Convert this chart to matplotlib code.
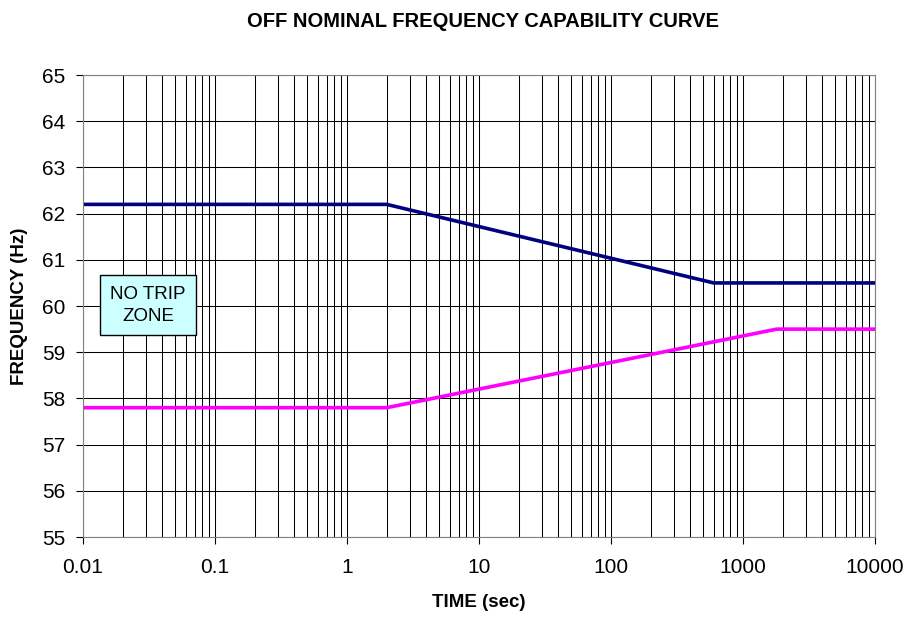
import matplotlib
matplotlib.use("Agg")
import matplotlib.pyplot as plt
from matplotlib.ticker import LogLocator, NullFormatter

plt.rcParams['font.family'] = ['Liberation Sans', 'DejaVu Sans']

# curve breakpoints
upper_t = [0.01, 2, 600, 10000]
upper_f = [62.2, 62.2, 60.5, 60.5]
lower_t = [0.01, 2, 1800, 10000]
lower_f = [57.8, 57.8, 59.5, 59.5]
x_ticks = [0.01, 0.1, 1, 10, 100, 1000, 10000]
x_labels = ['0.01', '0.1', '1', '10', '100', '1000', '10000']
y_ticks = list(range(55, 66))

fig = plt.figure(figsize=(9.09, 6.18), dpi=100)
ax = fig.add_axes([0.0913, 0.131, 0.8713, 0.7476])

ax.set_xscale('log')
ax.set_xlim(0.01, 10000)
ax.set_ylim(55, 65)
ax.set_xticks(x_ticks)
ax.set_xticklabels(x_labels)
ax.xaxis.set_minor_locator(LogLocator(base=10, subs=range(2, 10)))
ax.xaxis.set_minor_formatter(NullFormatter())
ax.set_yticks(y_ticks)

ax.grid(True, which='major', axis='both', color='black', lw=0.75)
ax.grid(True, which='minor', axis='x', color='black', lw=0.75)
ax.set_axisbelow(True)
ax.tick_params(axis='both', which='major', labelsize=15, direction='out', length=5, color='black')
ax.tick_params(axis='x', which='major', pad=10)
ax.tick_params(axis='y', which='major', pad=8)
ax.tick_params(axis='x', which='minor', length=0)
for s in ax.spines.values():
    s.set_color('#808080')

ax.plot(upper_t, upper_f, color='#000080', lw=2.6, solid_joinstyle='miter')
ax.plot(lower_t, lower_f, color='#FF00FF', lw=2.6, solid_joinstyle='miter')

ax.text(0.082, 0.502, 'NO TRIP\nZONE', transform=ax.transAxes, ha='center', va='center',
        fontsize=13.5, linespacing=1.4,
        bbox=dict(boxstyle='square,pad=0.55', fc='#CCFFFF', ec='black', lw=1))

ax.set_xlabel('TIME (sec)', fontsize=13.5, fontweight='bold', labelpad=12)
ax.set_ylabel('FREQUENCY (Hz)', fontsize=13.5, fontweight='bold', labelpad=10)
fig.text(0.531, 0.966, 'OFF NOMINAL FREQUENCY CAPABILITY CURVE', ha='center', va='center',
         fontsize=14.5, fontweight='bold')

fig.savefig('out.png', dpi=100)
